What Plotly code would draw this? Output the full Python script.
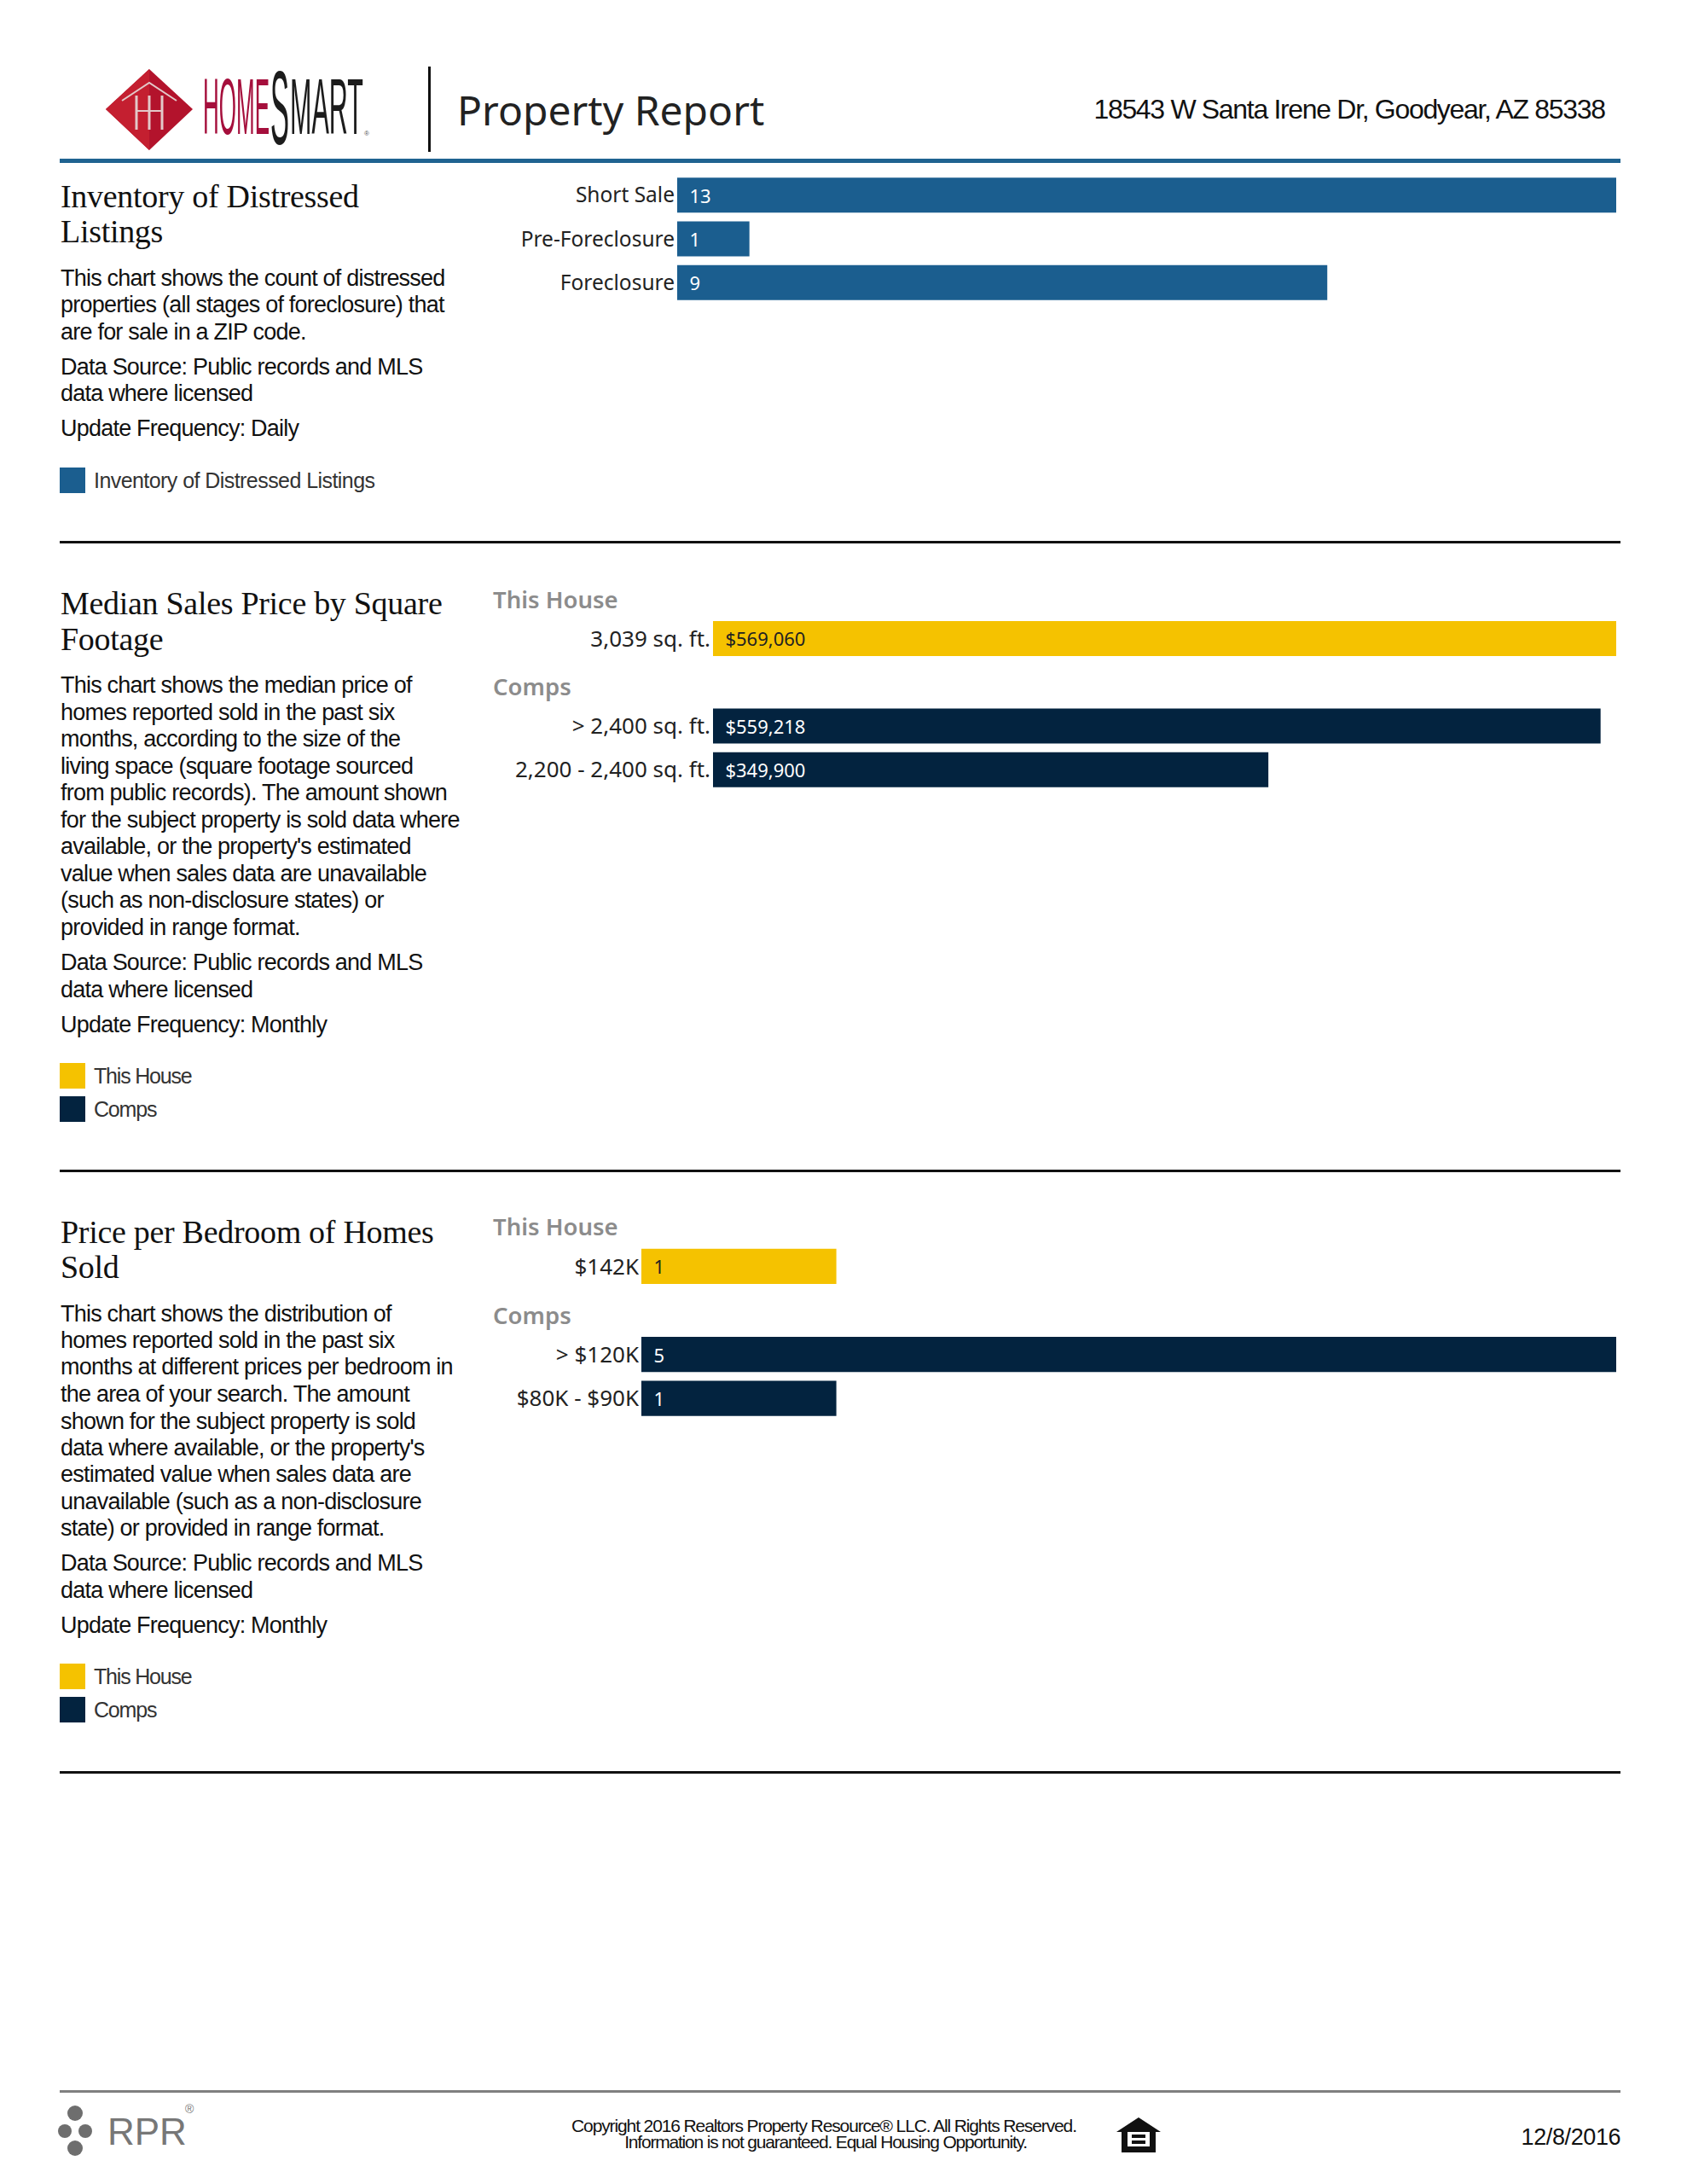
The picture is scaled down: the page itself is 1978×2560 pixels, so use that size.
import json
import plotly.graph_objects as go

W, H = 1978, 2560

# ---- data ----
distress_cats = ["Short Sale", "Pre-Foreclosure", "Foreclosure"]
distress_vals = [13, 1, 9]

sqft_rows = ["This House", "3,039 sq. ft.", "Comps", "> 2,400 sq. ft.", "2,200 - 2,400 sq. ft."]
sqft_house_cats = ["3,039 sq. ft."]
sqft_house_vals = [569060]
sqft_comp_cats = ["> 2,400 sq. ft.", "2,200 - 2,400 sq. ft."]
sqft_comp_vals = [559218, 349900]

bed_rows = ["This House", "$142K", "Comps", "> $120K", "$80K - $90K"]
bed_house_cats = ["$142K"]
bed_house_vals = [1]
bed_comp_cats = ["> $120K", "$80K - $90K"]
bed_comp_vals = [5, 1]

BLUE, GOLD, NAVY = "#1b5e8f", "#f5c200", "#03233f"
LABEL = "Noto Sans"
PAD = "\u00a0\u00a0"

# ---- texts ----
heading1 = ["Inventory of Distressed", "Listings"]
body1 = ["This chart shows the count of distressed", "properties (all stages of foreclosure) that",
         "are for sale in a ZIP code.", "Data Source: Public records and MLS",
         "data where licensed", "Update Frequency: Daily"]
body1_y = [325, 356, 388, 429, 460, 501]

heading2 = ["Median Sales Price by Square", "Footage"]
body2 = ["This chart shows the median price of", "homes reported sold in the past six",
         "months, according to the size of the", "living space (square footage sourced",
         "from public records). The amount shown", "for the subject property is sold data where",
         "available, or the property's estimated", "value when sales data are unavailable",
         "(such as non-disclosure states) or", "provided in range format.",
         "Data Source: Public records and MLS", "data where licensed", "Update Frequency: Monthly"]
body2_y = [802, 834, 865, 897, 928, 960, 991, 1023, 1054, 1086, 1127, 1159, 1200]

heading3 = ["Price per Bedroom of Homes", "Sold"]
body3 = ["This chart shows the distribution of", "homes reported sold in the past six",
         "months at different prices per bedroom in", "the area of your search. The amount",
         "shown for the subject property is sold", "data where available, or the property's",
         "estimated value when sales data are", "unavailable (such as a non-disclosure",
         "state) or provided in range format.", "Data Source: Public records and MLS",
         "data where licensed", "Update Frequency: Monthly"]
body3_y = [1539, 1570, 1601, 1633, 1665, 1696, 1727, 1759, 1790, 1831, 1863, 1904]

legends = [("Inventory of Distressed Listings", BLUE, 563),
           ("This House", GOLD, 1261), ("Comps", NAVY, 1300),
           ("This House", GOLD, 1965), ("Comps", NAVY, 2004)]

fig = go.Figure()
ann, shp = [], []
spacing, fitted = [], []


def txt(x, y, s, size, color="#111111", family="Liberation Sans", anchor="left", ls=0, fit=0):
    ann.append(dict(x=x / W, y=1 - y / H, xref="paper", yref="paper", text=s, showarrow=False,
                    xanchor=anchor, yanchor="middle", align=anchor,
                    font=dict(family=family, size=size, color=color), borderpad=0))
    if ls:
        spacing.append([len(ann) - 1, ls])
    if fit:
        fitted.append([len(ann) - 1, fit])


def rect(x0, y0, x1, y1, color):
    shp.append(dict(type="rect", xref="paper", yref="paper", x0=x0 / W, x1=x1 / W,
                    y0=1 - y0 / H, y1=1 - y1 / H, fillcolor=color, line_width=0, layer="above"))


def poly(points, fill=None, line=None, lw=0):
    d = "M" + " L".join(f"{x / W:.5f},{1 - y / H:.5f}" for x, y in points) + (" Z" if fill else "")
    shp.append(dict(type="path", xref="paper", yref="paper", path=d, fillcolor=fill,
                    line=dict(color=line or "rgba(0,0,0,0)", width=lw), layer="above"))


def bar(cats, vals, color, labels, label_color, xa, ya):
    fig.add_bar(y=cats, x=vals, orientation="h", marker=dict(color=color, line_width=0),
                text=[PAD + t for t in labels], textposition="inside", insidetextanchor="start",
                constraintext="none", textangle=0,
                insidetextfont=dict(family=LABEL, size=22, color=label_color),
                xaxis=xa, yaxis=ya, showlegend=False, cliponaxis=False, width=0.8)


bar(distress_cats, distress_vals, BLUE, [str(v) for v in distress_vals], "white", "x", "y")
bar(sqft_house_cats, sqft_house_vals, GOLD, [f"${v:,}" for v in sqft_house_vals], "#222222", "x2", "y2")
bar(sqft_comp_cats, sqft_comp_vals, NAVY, [f"${v:,}" for v in sqft_comp_vals], "white", "x2", "y2")
bar(bed_house_cats, bed_house_vals, GOLD, [str(v) for v in bed_house_vals], "#222222", "x3", "y3")
bar(bed_comp_cats, bed_comp_vals, NAVY, [str(v) for v in bed_comp_vals], "white", "x3", "y3")


def xax(x0, x1, top):
    return dict(domain=[x0 / W, x1 / W], range=[0, top], visible=False, fixedrange=True)


def yax(top, bottom, rows, ticks, size):
    return dict(domain=[1 - bottom / H, 1 - top / H], type="category", categoryorder="array",
                categoryarray=rows, tickmode="array", tickvals=ticks, ticktext=ticks,
                range=[len(rows) - 0.5, -0.5], showline=False, showgrid=False, zeroline=False,
                ticks="", tickfont=dict(family="Noto Sans", size=size, color="#222222"),
                ticklabelstandoff=2, fixedrange=True)


fig.update_layout(
    width=W, height=H, margin=dict(l=0, r=0, t=0, b=0), paper_bgcolor="white", plot_bgcolor="white",
    barmode="overlay", font=dict(family="Liberation Sans"),
    xaxis=xax(794, 1895, 13), yaxis=yax(203, 357, distress_cats, distress_cats, 24.5),
    xaxis2=xax(836, 1895, 569060),
    yaxis2=dict(anchor="x2", **yax(671.5, 928, sqft_rows, sqft_house_cats + sqft_comp_cats, 26)),
    xaxis3=xax(752, 1895, 5),
    yaxis3=dict(anchor="x3", **yax(1407, 1665, bed_rows, bed_house_cats + bed_comp_cats, 26)),
)

# group headers in the chart column
for y_ref, rows in (("y2", sqft_rows), ("y3", bed_rows)):
    for r, dy in ((rows[0], -5), (rows[2], -5)):
        ann.append(dict(x=576 / W, y=r, xref="paper", yref=y_ref, text=r, showarrow=False, xanchor="left",
                        yanchor="middle", yshift=dy,
                        font=dict(family="Noto Sans", size=27.5, color="#8c8c8c", weight=600)))

# left column
SERIF = "Liberation Serif"
for lines, ys in ((heading1, (230, 271)), (heading2, (707, 749)), (heading3, (1444, 1485))):
    for s, y in zip(lines, ys):
        txt(70, y, s, 38, family=SERIF, ls=-0.3)
for lines, ys in ((body1, body1_y), (body2, body2_y), (body3, body3_y)):
    for s, y in zip(lines, ys):
        txt(70, y + 1, s, 27, ls=-0.78)
for s, c, y in legends:
    rect(70, y - 15, 100, y + 15, c)
    txt(109, y, s, 25, color="#333333", ls=-0.56 if len(s) > 12 else -1.2)

# page header
rect(70, 186, 1900, 191, "#1f6391")
rect(502, 78, 505, 178, "#111111")
txt(535, 128, "Property Report", 48, family="Noto Sans", color="#222222")
txt(1883, 128, "18543 W Santa Irene Dr, Goodyear, AZ 85338", 32, anchor="right", ls=-1.32)
# logo
poly([(124, 128), (175, 81), (226, 128), (175, 176)], fill="#b3132c")
poly([(124, 128), (175, 81), (175, 176)], fill="#c41f30")
poly([(143, 118), (175, 97), (207, 118)], line="#e3c9c9", lw=2)
for px in (160, 175, 190):
    poly([(px, 112), (px, 152)], line="#e3c9c9", lw=3)
poly([(160, 130), (190, 130)], line="#e3c9c9", lw=2)
txt(237, 125, "HOME", 92, color="#a50f3c", fit=78)
txt(316, 127, "S", 122, color="#1c1c1c", fit=22)
txt(339, 125, "MART", 92, color="#1c1c1c", fit=86)
txt(426, 157, "\u00ae", 8, color="#555555")

# section rules
for y in (635, 1372, 2077):
    rect(70, y - 1, 1900, y + 2, "#111111")
rect(70, 2450, 1900, 2453, "#808080")

# footer
txt(966, 2491, "Copyright 2016 Realtors Property Resource\u00ae LLC. All Rights Reserved.", 21, anchor="center", ls=-1.12)
txt(968, 2510, "Information is not guaranteed. Equal Housing Opportunity.", 21, anchor="center", ls=-1.2)
txt(1901, 2505, "12/8/2016", 27, anchor="right", ls=-0.4)
txt(125, 2498, "RPR", 44, color="#777777")
txt(216, 2472, "\u00ae", 14, color="#777777")
for cx, cy, r in ((88, 2477, 9), (88, 2518, 9), (76, 2498, 8), (100, 2498, 8)):
    shp.append(dict(type="circle", xref="paper", yref="paper", x0=(cx - r) / W, x1=(cx + r) / W,
                    y0=1 - (cy + r) / H, y1=1 - (cy - r) / H, fillcolor="#6e6e6e", line_width=0, layer="above"))
poly([(1335, 2482), (1361, 2499), (1355, 2499), (1355, 2523), (1315, 2523), (1315, 2499), (1309, 2499)], fill="#111111")
poly([(1322, 2499), (1348, 2499), (1348, 2516), (1322, 2516)], fill="#ffffff")
rect(1327, 2502, 1343, 2506, "#111111")
rect(1327, 2509, 1343, 2513, "#111111")

fig.update_layout(annotations=ann, shapes=shp)

# the page margin, the reference's tight tracking and the squeezed wordmark are not layout options
post = """
document.body.style.margin = '0';
var notes = document.querySelectorAll('g.annotation text');
%s.forEach(function (p) { if (notes[p[0]]) notes[p[0]].style.letterSpacing = p[1] + 'px'; });
%s.forEach(function (p) {
  var t = notes[p[0]];
  if (t) {
    t.style.transformBox = 'fill-box';
    t.style.transformOrigin = 'left center';
    t.style.transform = 'scaleX(' + (p[1] / t.getComputedTextLength()) + ')';
  }
});
""" % (json.dumps(spacing), json.dumps(fitted))
fig.write_html("out.html", config=dict(displayModeBar=False), post_script=post)
